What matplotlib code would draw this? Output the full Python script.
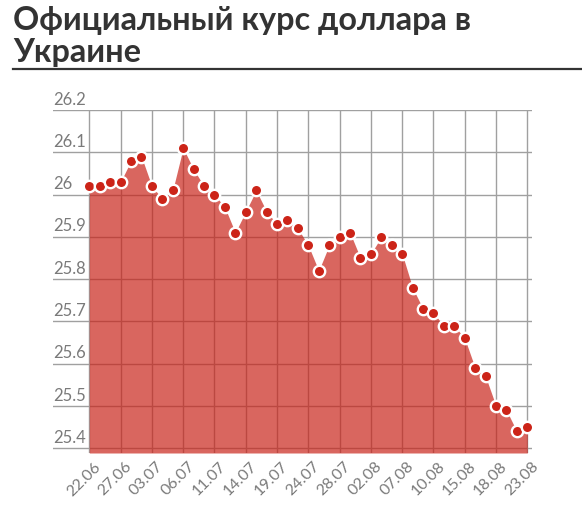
import matplotlib
matplotlib.use("Agg")
import matplotlib.pyplot as plt
import matplotlib.transforms as mtransforms

dates = ["22.06", "27.06", "03.07", "06.07", "11.07", "14.07", "19.07", "24.07",
         "28.07", "02.08", "07.08", "10.08", "15.08", "18.08", "23.08"]
rates = [26.02, 26.02, 26.03, 26.03, 26.08, 26.09, 26.02, 25.99, 26.01, 26.11,
         26.06, 26.02, 26.00, 25.97, 25.91, 25.96, 26.01, 25.96, 25.93, 25.94,
         25.92, 25.88, 25.82, 25.88, 25.90, 25.91, 25.85, 25.86, 25.90, 25.88,
         25.86, 25.78, 25.73, 25.72, 25.69, 25.69, 25.66, 25.59, 25.57, 25.50,
         25.49, 25.44, 25.45]
yticks = [25.4, 25.5, 25.6, 25.7, 25.8, 25.9, 26.0, 26.1, 26.2]
ytick_labels = ["25.4", "25.5", "25.6", "25.7", "25.8", "25.9", "26", "26.1", "26.2"]
title_lines = ["Официальный курс доллара в", "Украине"]

W, H = 582, 506
fig = plt.figure(figsize=(W / 100, H / 100), dpi=100)
ax = fig.add_axes([53 / W, (H - 454) / H, (531.7 - 53) / W, (454 - 111) / H])

x = list(range(len(rates)))
ymin = 25.389
ax.set_xlim(-3.48, 42.42)
ax.set_ylim(ymin, 26.2)

grid_col = "#a0a0a0"
ax.set_yticks(yticks)
ax.set_xticks(x[::3])
ax.grid(True, color=grid_col, linewidth=1.0, zorder=1)
ax.set_axisbelow(True)
for s in ax.spines.values():
    s.set_visible(False)
ax.tick_params(length=0)
ax.set_yticklabels([])
ax.set_xticklabels([])

ax.fill_between(x, rates, ymin, color=(200 / 255, 30 / 255, 20 / 255), alpha=0.68,
                linewidth=0, zorder=2)
ax.plot(x, rates, linestyle="none", marker="o", markersize=8.2,
        markerfacecolor="#cc2418", markeredgecolor="white", markeredgewidth=1.7,
        zorder=3, clip_on=False)

label_col = "#7a7a7a"
label_font = "Lato"
trans = mtransforms.blended_transform_factory(ax.transAxes, ax.transData)
for v, lab in zip(yticks, ytick_labels):
    ax.annotate(lab, xy=(0, v), xycoords=trans, xytext=(0, 2.5),
                textcoords="offset points", ha="left", va="bottom",
                fontsize=12, color=label_col, family=label_font)

for i, lab in zip(x[::3], dates):
    ax.annotate(lab, xy=(i, ymin), xycoords="data", xytext=(3, -4),
                textcoords="offset points", ha="right", va="top",
                rotation=45, rotation_mode="anchor", fontsize=11.5,
                color=label_col, family=label_font)

title_col = "#333333"
title_font = "Lato"
fig.text(13 / W, 1 - 30 / H, title_lines[0], fontsize=23.3, fontweight="bold",
         color=title_col, ha="left", va="baseline", family=title_font)
fig.text(13 / W, 1 - 62 / H, title_lines[1], fontsize=23.3, fontweight="bold",
         color=title_col, ha="left", va="baseline", family=title_font)
fig.add_artist(plt.Line2D([13 / W, 1.0], [1 - 70 / H, 1 - 70 / H],
                          color=title_col, linewidth=1.6))

fig.savefig("out.png", dpi=100)
